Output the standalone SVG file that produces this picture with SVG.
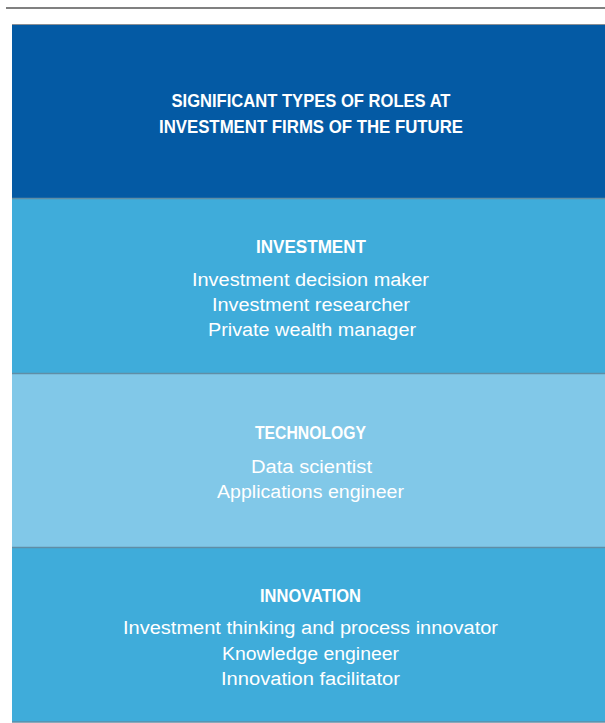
<svg xmlns="http://www.w3.org/2000/svg" width="605" height="723" viewBox="0 0 605 723">
<style>
.h{font-family:"Liberation Sans Narrow","Liberation Sans",Arial,sans-serif;font-weight:bold;font-size:19px;fill:#ffffff;text-anchor:middle}
.b{font-family:"Liberation Sans",Arial,sans-serif;font-size:18px;fill:#ffffff;text-anchor:middle}
.sep{stroke:#5f8ea6;stroke-width:1.5}
</style>
<rect width="605" height="723" fill="#ffffff"/>
<line x1="6" y1="8" x2="605" y2="8" stroke="#808080" stroke-width="2"/>
<g id="title">
<rect x="12" y="24" width="593" height="174" fill="#045AA4"/>
<line x1="12" y1="24.5" x2="605" y2="24.5" stroke="#8a8f95" stroke-width="1"/>
<text class="h" x="311" y="107" textLength="279" lengthAdjust="spacingAndGlyphs">SIGNIFICANT TYPES OF ROLES AT</text>
<text class="h" x="311" y="133" textLength="304" lengthAdjust="spacingAndGlyphs">INVESTMENT FIRMS OF THE FUTURE</text>
</g>
<g id="investment">
<rect x="12" y="198" width="593" height="176" fill="#3FACDA"/>
<text class="h" x="311" y="253" textLength="110" lengthAdjust="spacingAndGlyphs">INVESTMENT</text>
<text class="b" x="310.5" y="286" textLength="237" lengthAdjust="spacingAndGlyphs">Investment decision maker</text>
<text class="b" x="311" y="311" textLength="198" lengthAdjust="spacingAndGlyphs">Investment researcher</text>
<text class="b" x="312" y="336" textLength="208" lengthAdjust="spacingAndGlyphs">Private wealth manager</text>
</g>
<g id="technology">
<rect x="12" y="374" width="593" height="173" fill="#81C8E8"/>
<text class="h" x="310.5" y="439" textLength="111" lengthAdjust="spacingAndGlyphs">TECHNOLOGY</text>
<text class="b" x="311.5" y="473" textLength="121" lengthAdjust="spacingAndGlyphs">Data scientist</text>
<text class="b" x="310.5" y="498" textLength="187" lengthAdjust="spacingAndGlyphs">Applications engineer</text>
</g>
<g id="innovation">
<rect x="12" y="547" width="593" height="175" fill="#3FACDA"/>
<text class="h" x="310.5" y="602" textLength="101" lengthAdjust="spacingAndGlyphs">INNOVATION</text>
<text class="b" x="310.5" y="634" textLength="375" lengthAdjust="spacingAndGlyphs">Investment thinking and process innovator</text>
<text class="b" x="310.5" y="660" textLength="177" lengthAdjust="spacingAndGlyphs">Knowledge engineer</text>
<text class="b" x="310.5" y="685" textLength="179" lengthAdjust="spacingAndGlyphs">Innovation facilitator</text>
</g>
<g id="connectors">
<line class="sep" x1="12" y1="198.5" x2="605" y2="198.5"/>
<line class="sep" x1="12" y1="373.5" x2="605" y2="373.5"/>
<line class="sep" x1="12" y1="547.5" x2="605" y2="547.5"/>
<line class="sep" x1="12" y1="722" x2="605" y2="722"/>
</g>
</svg>
